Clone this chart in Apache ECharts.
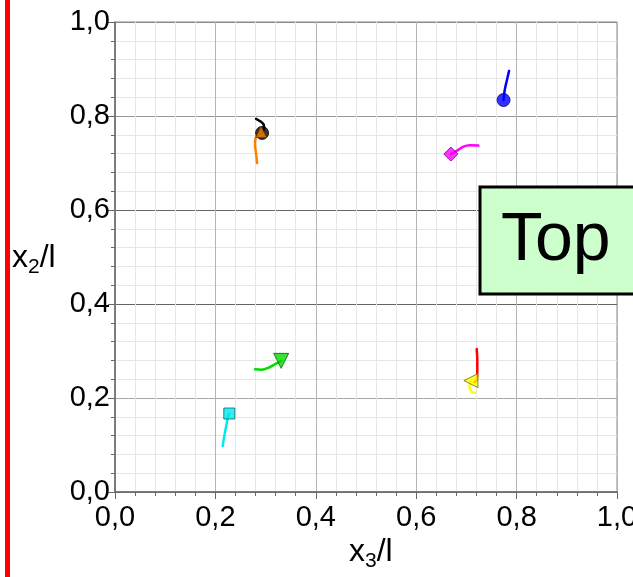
<!DOCTYPE html>
<html>
<head>
<meta charset="utf-8">
<script src="https://cdn.jsdelivr.net/npm/echarts@6/dist/echarts.min.js"></script>
<style>html,body{margin:0;padding:0;background:#fff}#c{width:633px;height:577px}</style>
</head>
<body>
<div id="c"></div>
<script>
// Trajectories in (x3/l, x2/l); the marker sits on the last point of each path
const blackPath   = [[0.281,0.794],[0.289,0.789],[0.296,0.782],[0.297,0.774],[0.293,0.764]];
const orangePath  = [[0.283,0.700],[0.281,0.720],[0.279,0.738],[0.280,0.753],[0.291,0.766]];
const bluePath    = [[0.785,0.896],[0.780,0.873],[0.777,0.859],[0.775,0.845],[0.774,0.834]];
const magentaPath = [[0.724,0.737],[0.707,0.738],[0.694,0.735],[0.684,0.728],[0.669,0.719]];
const greenPath   = [[0.279,0.261],[0.292,0.260],[0.305,0.264],[0.319,0.272],[0.331,0.279]];
const cyanPath    = [[0.2145,0.098],[0.218,0.121],[0.2225,0.146],[0.2245,0.158],[0.2277,0.167]];
const redPath     = [[0.7205,0.304],[0.7217,0.281],[0.7217,0.260],[0.7205,0.238],[0.7157,0.234]];
const yellowPath  = [[0.717,0.211],[0.7106,0.213],[0.706,0.224],[0.709,0.237]];

const xTicks = [0, 0.2, 0.4, 0.6, 0.8, 1.0];
const yTicks = [0, 0.2, 0.4, 0.6, 0.8, 1.0];

const trajectories = [
  {name:'black',   data:blackPath,   color:'#000000', border:'#000000', symbol:'circle',   size:13, rotate:0},
  {name:'orange',  data:orangePath,  color:'#ff8000', border:'#7a3c00', symbol:'triangle', size:11, rotate:0},
  {name:'blue',    data:bluePath,    color:'#0000ff', border:'#00007a', symbol:'circle',   size:13, rotate:0},
  {name:'magenta', data:magentaPath, color:'#ff00ff', border:'#7a007a', symbol:'diamond',  size:14, rotate:0},
  {name:'green',   data:greenPath,   color:'#00dd00', border:'#006600', symbol:'triangle', size:15, rotate:180},
  {name:'cyan',    data:cyanPath,    color:'#00e8f0', border:'#006a70', symbol:'rect',     size:11, rotate:0},
  {name:'red',     data:redPath,     color:'#ff0000', border:'#7a0000', symbol:'none',     size:0,  rotate:0},
  {name:'yellow',  data:yellowPath,  color:'#ffff00', border:'#6a6a00', symbol:'triangle', size:14, rotate:90}
];

const fmt = v => v.toFixed(1).replace('.', ',');
const FONT = 'Liberation Sans, Arial, sans-serif';

const series = [];
trajectories.forEach(t => {
  series.push({
    type:'line', name:t.name, data:t.data, symbol:'none', smooth:0.3,
    lineStyle:{color:t.color, width:2.5, cap:'round'}, z:3, silent:true
  });
});
trajectories.forEach(t => {
  if (t.symbol === 'none') return;
  series.push({
    type:'scatter', name:t.name + ' marker', data:[t.data[t.data.length-1]],
    symbol:t.symbol, symbolSize:t.size, symbolRotate:t.rotate,
    itemStyle:{color:t.color, borderColor:t.border, borderWidth:1}, z:4, silent:true
  });
});

const chart = echarts.init(document.getElementById('c'), null, {renderer:'canvas'});
chart.setOption({
  animation:false,
  backgroundColor:'#ffffff',
  grid:{left:115, right:16, top:22, bottom:85, outerBoundsMode:'none', containLabel:false,
        show:true, borderColor:'#8a8a8a', borderWidth:1, backgroundColor:'transparent'},
  xAxis:{
    type:'value', min:xTicks[0], max:xTicks[xTicks.length-1], interval:0.2,
    axisLine:{show:true, onZero:false, lineStyle:{color:'#666', width:1.5}},
    axisTick:{show:true, length:7, lineStyle:{color:'#666'}},
    minorTick:{show:true, splitNumber:5, length:4, lineStyle:{color:'#666'}},
    splitLine:{show:true, lineStyle:{color:'#b4b4b4', width:1}},
    minorSplitLine:{show:true, lineStyle:{color:'#e6e6e6', width:1}},
    axisLabel:{formatter:fmt, fontSize:29, color:'#000', fontFamily:FONT, margin:11, showMaxLabel:true}
  },
  yAxis:{
    type:'value', min:yTicks[0], max:yTicks[yTicks.length-1], interval:0.2,
    axisLine:{show:true, onZero:false, lineStyle:{color:'#666', width:1.5}},
    axisTick:{show:true, length:7, lineStyle:{color:'#666'}},
    minorTick:{show:true, splitNumber:5, length:4, inside:true, lineStyle:{color:'#666'}},
    splitLine:{show:true, lineStyle:{color:['#8a8a8a','#a8a8a8','#666666','#666666','#999999','#8a8a8a'], width:1}},
    minorSplitLine:{show:true, lineStyle:{color:'#e6e6e6', width:1}},
    axisLabel:{formatter:fmt, fontSize:29, color:'#000', fontFamily:FONT, margin:5}
  },
  graphic:[
    {type:'rect', left:5, top:0, shape:{width:5, height:577}, style:{fill:'#ff0000'}, z:10},
    {type:'rect', x:480, y:187, shape:{width:170, height:107}, style:{fill:'#ccffcc', stroke:'#000', lineWidth:3}, z:10},
    {type:'text', x:501, y:241, style:{text:'Top', font:'68px ' + FONT, fill:'#000', verticalAlign:'middle', align:'left'}, z:11},
    {type:'text', x:12, y:258, z:11, style:{
      text:'{a|x}{s|2}{a|/l}', verticalAlign:'middle', align:'left',
      rich:{a:{fontSize:32, fontFamily:FONT, fill:'#000', color:'#000'},
            s:{fontSize:21, fontFamily:FONT, fill:'#000', color:'#000', padding:[18,0,0,0]}}}},
    {type:'text', x:349, y:552, z:11, style:{
      text:'{a|x}{s|3}{a|/l}', verticalAlign:'middle', align:'left',
      rich:{a:{fontSize:32, fontFamily:FONT, fill:'#000', color:'#000'},
            s:{fontSize:21, fontFamily:FONT, fill:'#000', color:'#000', padding:[18,0,0,0]}}}}
  ],
  series:series
});
</script>
</body>
</html>
